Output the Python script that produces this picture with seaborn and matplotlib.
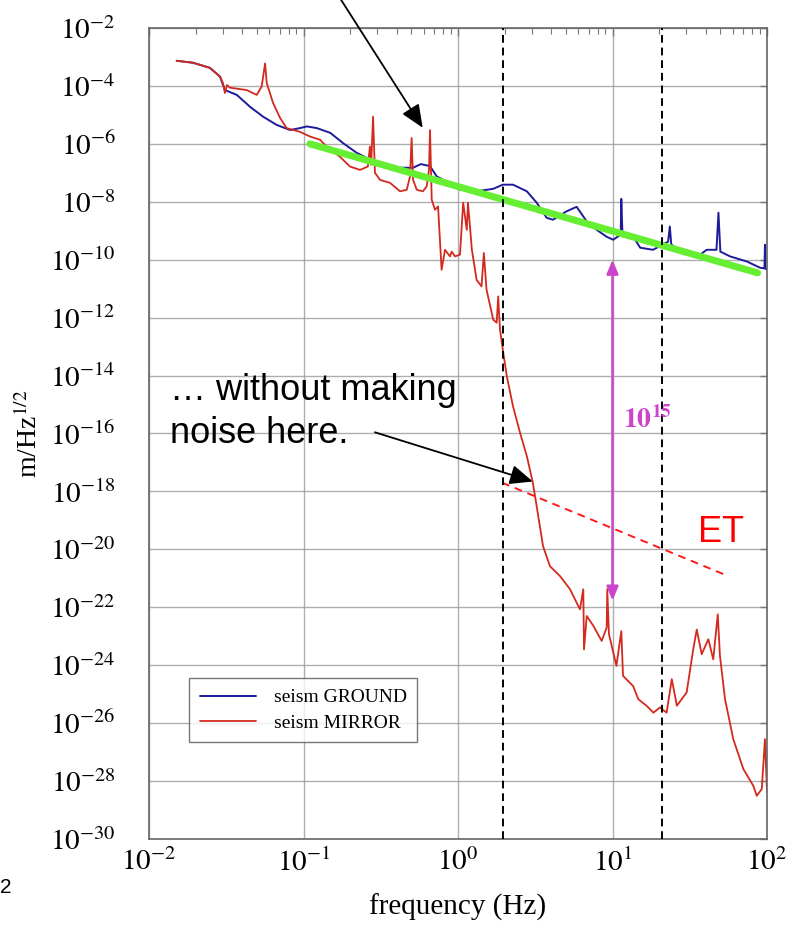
import numpy as np
import pandas as pd
import matplotlib
matplotlib.use("Agg")
import matplotlib.pyplot as plt
import seaborn as sns
from matplotlib.ticker import FixedLocator, FixedFormatter, LogLocator, NullFormatter

# ---------------- data ----------------
ground_freq = [0.0151, 0.0193, 0.0248, 0.0288, 0.0310, 0.0370, 0.0451, 0.0547, 0.0671, 0.0819,
               0.0948, 0.105, 0.122, 0.149, 0.180, 0.221, 0.256, 0.379, 0.512, 0.575,
               0.659, 0.728, 0.845, 1.03, 1.32, 1.69, 1.95, 2.27, 2.79, 3.23,
               3.75, 4.12, 5.05, 5.86, 6.81, 7.91, 9.17, 10.1, 11.3, 11.4,
               11.6, 13.6, 15.1, 18.3, 22.9, 23.5, 24.0, 27.3, 35.7, 40.7,
               47.1, 48.5, 49.9, 57.7, 74.0, 90.1, 96.3, 97.0, 97.7, 100.0]
ground_amp = [7.4e-4, 6.3e-4, 4.2e-4, 2.1e-4, 7.2e-5, 4.9e-5, 1.9e-5, 8.7e-6, 4.5e-6, 3.0e-6,
              3.5e-6, 4.0e-6, 3.5e-6, 2.4e-6, 1.07e-6, 4.9e-7, 3.3e-7, 1.5e-7, 1.5e-7, 2.0e-7,
              1.7e-7, 7.5e-8, 5.0e-8, 2.6e-8, 2.3e-8, 2.8e-8, 3.9e-8, 3.9e-8, 2.3e-8, 9.3e-9,
              2.8e-9, 2.4e-9, 4.7e-9, 6.7e-9, 2.1e-9, 1.07e-9, 6.2e-10, 4.9e-10, 7.3e-10, 1.26e-8,
              7.3e-10, 6.3e-10, 2.6e-10, 2.2e-10, 4.2e-10, 1.4e-9, 3.4e-10, 1.9e-10, 1.3e-10, 2.2e-10,
              2.2e-10, 4.2e-9, 1.9e-10, 1.3e-10, 8.7e-11, 5.3e-11, 5.0e-11, 3.3e-10, 5.0e-11, 4.5e-11]

mirror_freq = [0.0151, 0.0193, 0.0248, 0.0288, 0.0301, 0.0310, 0.0320, 0.0334, 0.0429, 0.0498,
               0.0536, 0.0564, 0.0578, 0.0635, 0.0705, 0.0778, 0.0948, 0.110, 0.128, 0.141,
               0.172, 0.200, 0.232, 0.261, 0.269, 0.274, 0.282, 0.290, 0.313, 0.363,
               0.422, 0.466, 0.489, 0.501, 0.512, 0.541, 0.593, 0.627, 0.649, 0.659,
               0.676, 0.710, 0.743, 0.783, 0.824, 0.887, 0.910, 0.957, 1.03, 1.08,
               1.14, 1.16, 1.23, 1.32, 1.42, 1.47, 1.53, 1.69, 1.78, 1.82,
               1.87, 1.95, 2.07, 2.27, 2.52, 2.79, 3.05, 3.23, 3.55, 3.94,
               4.57, 5.31, 5.71, 6.16, 6.47, 6.54, 6.81, 7.51, 8.51, 9.17,
               9.25, 9.48, 9.88, 10.6, 11.4, 11.7, 13.6, 14.7, 16.6, 18.4,
               20.3, 22.4, 24.2, 26.1, 30.2, 33.3, 35.1, 37.8, 41.7, 44.9,
               48.0, 49.6, 53.5, 60.5, 70.3, 81.5, 85.8, 92.5, 97.0, 100.0]
mirror_amp = [7.4e-4, 6.3e-4, 4.2e-4, 2.1e-4, 1.26e-4, 5.7e-5, 1.07e-4, 8.7e-5, 7.2e-5, 4.9e-5,
              9.5e-5, 6.0e-4, 1.26e-4, 2.6e-5, 7.9e-6, 3.5e-6, 2.6e-6, 1.8e-6, 1.38e-6, 8.1e-7,
              3.6e-7, 1.65e-7, 1.26e-7, 1.65e-7, 8.1e-7, 1.9e-7, 8.7e-6, 1.0e-7, 5.7e-8, 4.5e-8,
              2.3e-8, 2.6e-8, 7.5e-8, 1.6e-6, 5.7e-8, 2.6e-8, 2.3e-8, 3.4e-8, 1.26e-7, 3.0e-6,
              1.17e-8, 5.3e-9, 6.9e-9, 4.5e-11, 2.2e-10, 1.3e-10, 1.9e-10, 1.3e-10, 1.5e-10, 9.3e-9,
              1.07e-9, 9.3e-9, 2.2e-10, 2.0e-11, 1.2e-11, 1.7e-10, 9.3e-12, 8.5e-13, 6.7e-13, 5.4e-12,
              3.9e-13, 7.9e-14, 9.5e-15, 8.7e-16, 1.07e-16, 1.65e-17, 2.0e-18, 3.1e-19, 1.3e-20, 2.6e-21,
              1.2e-21, 4.2e-22, 1.9e-22, 8.5e-23, 4.2e-22, 3.5e-24, 5.0e-23, 2.3e-23, 6.9e-24, 2.0e-23,
              4.2e-22, 1.2e-23, 4.7e-24, 9.5e-25, 1.5e-23, 4.3e-25, 1.9e-25, 6.7e-26, 4.0e-26, 2.3e-26,
              3.5e-26, 2.3e-26, 3.3e-25, 4.0e-26, 1.15e-25, 3.5e-24, 1.7e-23, 2.4e-24, 7.9e-24, 1.6e-24,
              5.7e-23, 2.1e-24, 6.7e-26, 2.8e-27, 2.6e-28, 6.9e-29, 3.1e-29, 5.3e-29, 2.8e-27, 4.2e-29]

fit_freq = [0.11, 87.0]           # green power-law line
fit_amp = [1.0e-6, 3.5e-11]
et_freq = [1.93, 56.0]            # ET dashed line
et_amp = [2.0e-18, 1.2e-21]
band_freq = [1.97, 20.8]          # black dashed verticals
gap_freq = 10.0                   # magenta double arrow
gap_amp = [1.0e-10, 1.7e-22]

x_exps = [-2, -1, 0, 1, 2]
y_exps = list(range(-30, -1, 2))
x_ticklabels = [r"$10^{%d}$" % e for e in x_exps]
y_ticklabels = [r"$10^{%d}$" % e for e in y_exps]

ground_label = "seism GROUND"
mirror_label = "seism MIRROR"
x_title = "frequency (Hz)"
y_title = r"m/Hz$^{1/2}$"

# ---------------- styling ----------------
sns.set_style("white")
plt.rcParams["font.family"] = ["Liberation Serif", "DejaVu Serif"]
plt.rcParams["mathtext.fontset"] = "stix"
plt.rcParams["text.color"] = "black"
plt.rcParams["axes.labelcolor"] = "black"
plt.rcParams["xtick.color"] = "black"
plt.rcParams["ytick.color"] = "black"

BLUE = "#1c1c9a"
RED = "#d42a1e"
GREEN = "#66ee33"
MAGENTA = "#cc44cc"
SANS = ["Liberation Sans", "DejaVu Sans"]

fig = plt.figure(figsize=(7.96, 9.26), dpi=100)
ax = fig.add_axes([149 / 796, 1 - 839 / 926, 618 / 796, 811 / 926])

ground = pd.DataFrame({"f": ground_freq, "a": ground_amp})
mirror = pd.DataFrame({"f": mirror_freq, "a": mirror_amp})

sns.lineplot(data=ground, x="f", y="a", ax=ax, color=BLUE, lw=1.4,
             sort=False, estimator=None, label=ground_label)
sns.lineplot(data=mirror, x="f", y="a", ax=ax, color=RED, lw=1.3,
             sort=False, estimator=None, label=mirror_label)
sns.lineplot(x=fit_freq, y=fit_amp, ax=ax, color=GREEN, lw=5, legend=False)
sns.lineplot(x=et_freq, y=et_amp, ax=ax, color="#ff1a1a", lw=1.4,
             linestyle=(0, (4, 3)), legend=False)
for fb in band_freq:
    ax.axvline(fb, color="black", lw=1.4, linestyle=(0, (4, 2.5)), zorder=3)

ax.set_xscale("log")
ax.set_yscale("log")
ax.set_xlim(1e-2, 1e2)
ax.set_ylim(1e-30, 1e-2)

ax.xaxis.set_major_locator(FixedLocator([10.0 ** e for e in x_exps]))
ax.xaxis.set_major_formatter(FixedFormatter(x_ticklabels))
ax.xaxis.set_minor_locator(LogLocator(base=10, subs=np.arange(2, 10), numticks=20))
ax.xaxis.set_minor_formatter(NullFormatter())
ax.yaxis.set_major_locator(FixedLocator([10.0 ** e for e in y_exps]))
ax.yaxis.set_major_formatter(FixedFormatter(y_ticklabels))
ax.yaxis.set_minor_locator(FixedLocator([]))

ax.tick_params(axis="x", which="major", direction="in", length=6, width=1,
               color="#777777", labelsize=21, pad=7, top=True)
ax.tick_params(axis="x", which="minor", direction="in", length=4, width=0.8,
               color="#777777", top=True)
ax.tick_params(axis="y", which="major", direction="in", length=5, width=1,
               color="#777777", labelsize=21, pad=24, right=True)

ax.grid(True, which="major", color="#9a9a9a", lw=1.0, alpha=0.8)
for s in ax.spines.values():
    s.set_color("#666666")
    s.set_linewidth(1.2)

ax.set_xlabel(x_title, fontsize=21)
ax.set_ylabel(y_title, fontsize=20)
ax.xaxis.set_label_coords(0.5, -0.068)
ax.yaxis.set_label_coords(-0.172, 0.5)

leg = ax.legend(loc="upper left", bbox_to_anchor=(0.0647, 0.1985),
                frameon=True, fancybox=False, edgecolor="#555555",
                prop={"family": "Liberation Serif", "size": 14},
                handlelength=2.9, borderpad=0.55, labelspacing=0.4,
                handletextpad=0.9, borderaxespad=0)
leg.get_frame().set_linewidth(1.0)

# ---------------- annotations ----------------
arrow_black = dict(arrowstyle="-|>,head_length=0.7,head_width=0.3",
                   color="black", lw=1.3, mutation_scale=20, shrinkA=0, shrinkB=0)
ax.annotate("", xy=(0.591, 3.6e-6), xytext=(340 / 796, 1.002),
            textcoords="figure fraction", arrowprops=arrow_black, annotation_clip=False)
ax.annotate("", xy=(3.05, 2.2e-18), xytext=(0.29, 1.1e-16),
            arrowprops=arrow_black)

ax.text(0.034, 0.541, "\u2026 without making", transform=ax.transAxes,
        family=SANS, fontsize=26, va="baseline", ha="left", color="black")
ax.text(0.034, 0.488, "noise here.", transform=ax.transAxes,
        family=SANS, fontsize=26, va="baseline", ha="left", color="black")
ax.text(0.888, 0.366, "ET", transform=ax.transAxes, color="#ff0000",
        family=SANS, fontsize=26, va="baseline", ha="left")

ax.annotate("", xy=(gap_freq, gap_amp[1]), xytext=(gap_freq, gap_amp[0]),
            arrowprops=dict(arrowstyle="<|-|>,head_length=0.6,head_width=0.25",
                            color=MAGENTA, lw=1.8, mutation_scale=14,
                            shrinkA=0, shrinkB=0))
ax.text(0.767, 0.507, r"$\mathbf{10^{15}}$", transform=ax.transAxes,
        color=MAGENTA, fontsize=20, va="baseline", ha="left")

fig.text(0.0, 1 - 893 / 926, "2", family=SANS, fontsize=15, va="baseline", ha="left",
         color="black")

fig.savefig("out.png", dpi=100)
